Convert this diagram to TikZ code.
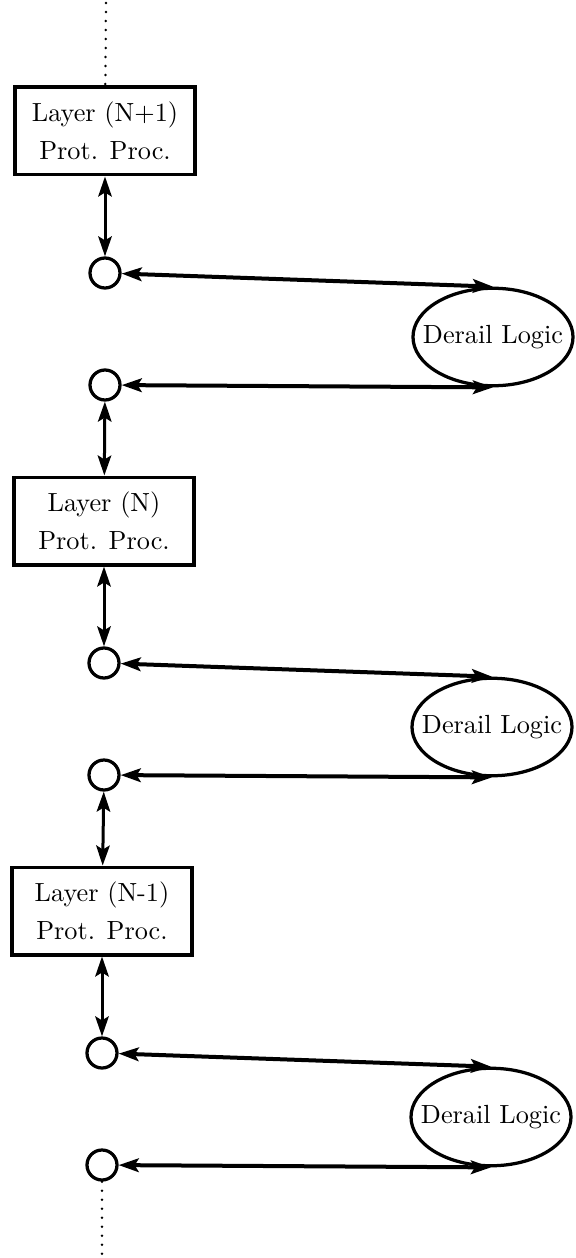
\documentclass[tikz,border=0pt]{standalone}
\usetikzlibrary{arrows.meta,shapes.geometric}

\begin{document}
\begin{tikzpicture}[
  >={Stealth[length=8pt,width=5.4pt,inset=1.6pt]}, x=0.4pt, y=-0.4pt,
  every node/.style={font=\fontsize{10.5}{15}\selectfont},
  layer/.style={draw, line width=1.4pt, minimum width=72pt, minimum height=35pt,
                inner sep=0pt, align=center},
  port/.style={circle, draw, line width=1.3pt, minimum size=12pt, inner sep=0pt},
  derail/.style={ellipse, draw, line width=1.3pt, minimum width=64pt,
                 minimum height=39pt, inner sep=0pt},
  vlink/.style={<->, line width=1.2pt},
  hlink/.style={<->, line width=1.6pt},
  dots/.style={line width=1.1pt, dash pattern=on 0pt off 3.6pt, line cap=round}
]
\useasboundingbox (0,0) rectangle (575,1258);

\foreach \i/\lay/\x in {0/N+1/105, 1/N/104, 2/N-1/102}{
  \pgfmathsetmacro\yo{390*\i}
  \node[layer](box\i) at (\x,131+\yo) {Layer (\lay)\\Prot. Proc.};
  \node[port](top\i) at (\x,273+\yo) {};
  \node[port](bot\i) at (\x,385+\yo) {};
  \node[derail](dl\i) at (493-\i,337+\yo) {\makebox[0pt]{Derail Logic}};
  \draw[vlink] (box\i) -- (top\i);
  \draw[hlink] (top\i) -- (dl\i.north);
  \draw[hlink] (bot\i) -- (dl\i.south);
}
\foreach \a/\b in {0/1,1/2}
  \draw[vlink] (bot\a) -- (box\b);

% continuation above and below
\coordinate (lead) at (106,3);
\coordinate (tail) at (102,1256);
\draw[dots] (lead) -- (box0);
\draw[dots] (bot2) -- (tail);

\end{tikzpicture}
\end{document}
